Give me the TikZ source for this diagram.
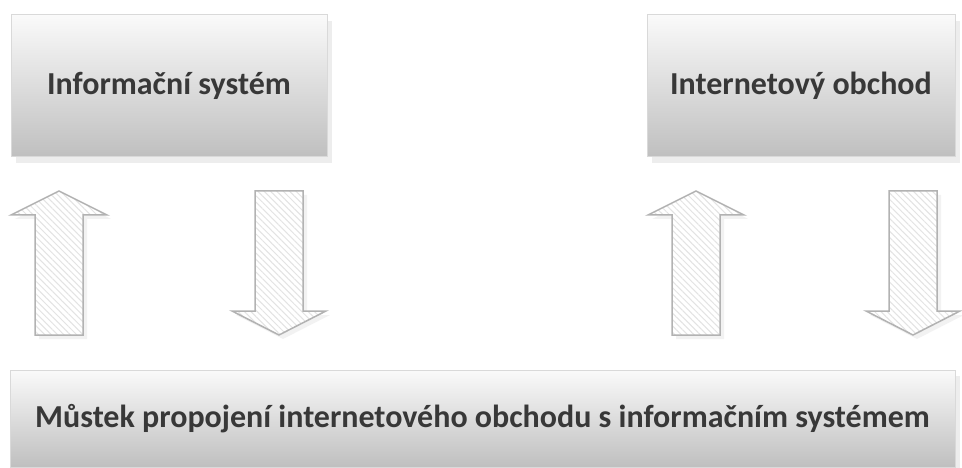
\documentclass[tikz,border=0pt]{standalone}
\usepackage{fontspec}
\setmainfont{Carlito}
\usetikzlibrary{positioning, shadows, patterns.meta}

\tikzset{
  box/.style={draw=black!15, line width=1pt, inner sep=0pt,
    top color=black!2, bottom color=black!25,
    drop shadow={shadow xshift=5pt, shadow yshift=-6pt, fill=black!7, opacity=1},
    font=\bfseries\fontsize{32}{38}\selectfont, text=black!78},
  flowarrow/.style={draw=black!30, line width=1.5pt, line join=miter,
    preaction={fill=white, drop shadow={shadow xshift=4pt, shadow yshift=-4pt, fill=black!5, opacity=1}},
    pattern={Lines[angle=-45, distance=4.5pt, line width=1pt]}, pattern color=black!11},
  pics/uparrow/.style={code={
    \draw[flowarrow] (-24,144) -- (-24,24) -- (-48,24) -- (0,0) -- (48,24) -- (24,24) -- (24,144) -- cycle;
  }},
  pics/downarrow/.style={code={
    \draw[flowarrow] (-24,0) -- (24,0) -- (24,120) -- (47,120) -- (0,144) -- (-47,120) -- (-24,120) -- cycle;
  }}
}

\begin{document}
\begin{tikzpicture}[x=1pt, y=-1pt]
  \useasboundingbox (0,0) rectangle (962,468);

  % Boxes
  \node[box, minimum width=316pt, minimum height=142pt] (infosys) at (169,86) {Informační systém};
  \node[box, minimum width=308pt, minimum height=142pt] (eshop) at (801,86) {Internetový obchod};
  \node[box, minimum width=945pt, minimum height=97pt] (bridge) at (482.5,418.5) {Můstek propojení internetového obchodu s informačním systémem};

  % Arrows
  \pic at (59,191) {uparrow};
  \pic at (279,191) {downarrow};
  \pic at (696,191) {uparrow};
  \pic at (913,191) {downarrow};
\end{tikzpicture}
\end{document}
